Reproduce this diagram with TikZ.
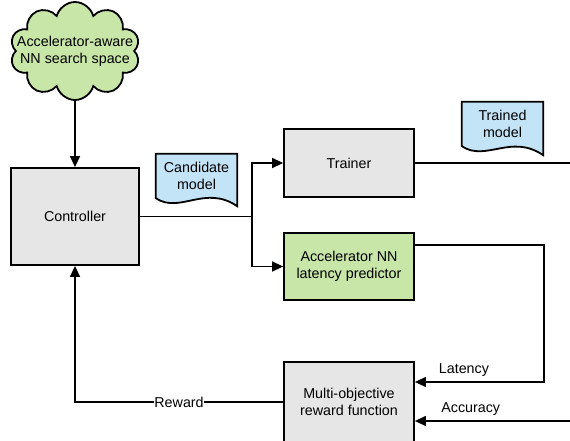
\documentclass[tikz,border=0pt]{standalone}
\usepackage{fontspec}
\setmainfont{Liberation Sans}
\usetikzlibrary{arrows.meta,shapes.symbols,backgrounds}

\definecolor{boxgray}{HTML}{E6E6E6}
\definecolor{boxgreen}{HTML}{C7E6A8}
\definecolor{docblue}{HTML}{C3E4F7}

\begin{document}
\begin{tikzpicture}[
  x=1pt, y=1pt,
  font=\fontsize{14.3}{17.2}\selectfont,
  block/.style={draw, line width=1.8pt, fill=boxgray, align=center, minimum width=130pt, inner sep=0pt},
  docu/.style={draw, line width=1.8pt, fill=docblue},
  conn/.style={line width=1.4pt, -{Triangle[length=11pt,width=10pt]}},
  wire/.style={line width=1.4pt},
]
\useasboundingbox (0,0) rectangle (570,440);

\node [cloud, cloud puffs=10, aspect=1.33, draw, line width=1.8pt, fill=boxgreen, minimum width=130pt, minimum height=98pt] (space) at (75,389) {};
\node [align=center] (spacetext) at (space) {Accelerator-aware\\NN search space};

\node [block, minimum width=128pt, minimum height=97pt] (controller) at (75,223.5) {Controller};
\node [block, minimum height=68pt] (trainer) at (349,277) {Trainer};
\node [block, fill=boxgreen, minimum height=67pt] (predictor) at (349,173.5) {Accelerator NN\\latency predictor};
\node [block, minimum height=80pt] (reward) at (349,38) {Multi-objective\\reward function};

\node [align=center, minimum width=81pt, minimum height=44pt, inner sep=0pt] (cand) at (196.5,264) {Candidate\\model};
\node [align=center, minimum width=81pt, minimum height=44pt, inner sep=0pt] (trained) at (502.5,316) {Trained\\model};

\begin{scope}[on background layer]
\path [docu] (cand.south west) -- (cand.north west) -- (cand.north east) -- ([yshift=-8pt]cand.south east) .. controls +(-32,22) and +(24,-16) .. (cand.south west) -- cycle;
\path [docu] (trained.south west) -- (trained.north west) -- (trained.north east) -- ([yshift=-9pt]trained.south east) .. controls +(-32,22) and +(24,-16) .. (trained.south west) -- cycle;
\end{scope}

\draw [conn] (space.south) -- (controller.north);

\coordinate (split) at (252,223.5);
\draw [wire] (controller.east) -- (split);
\draw [conn] (split) |- (trainer.west);
\draw [conn] (split) |- (predictor.west);

\coordinate (trainout) at (570,277);
\draw [wire] (trainer.east) -- (trainout);

\draw [conn] ([yshift=21.5pt]predictor.east) -- ++(129,0) |- ([yshift=20pt]reward.east) node [pos=0.81, above=2pt] {Latency};

\coordinate (accin) at (570,19);
\draw [conn] (accin) -- ([yshift=-19pt]reward.east) node [pos=0.64, above=2pt] {Accuracy};

\draw [conn] (reward.west) -| (controller.south) node [pos=0.25, fill=white, inner sep=0.5pt] {Reward};

\end{tikzpicture}
\end{document}
